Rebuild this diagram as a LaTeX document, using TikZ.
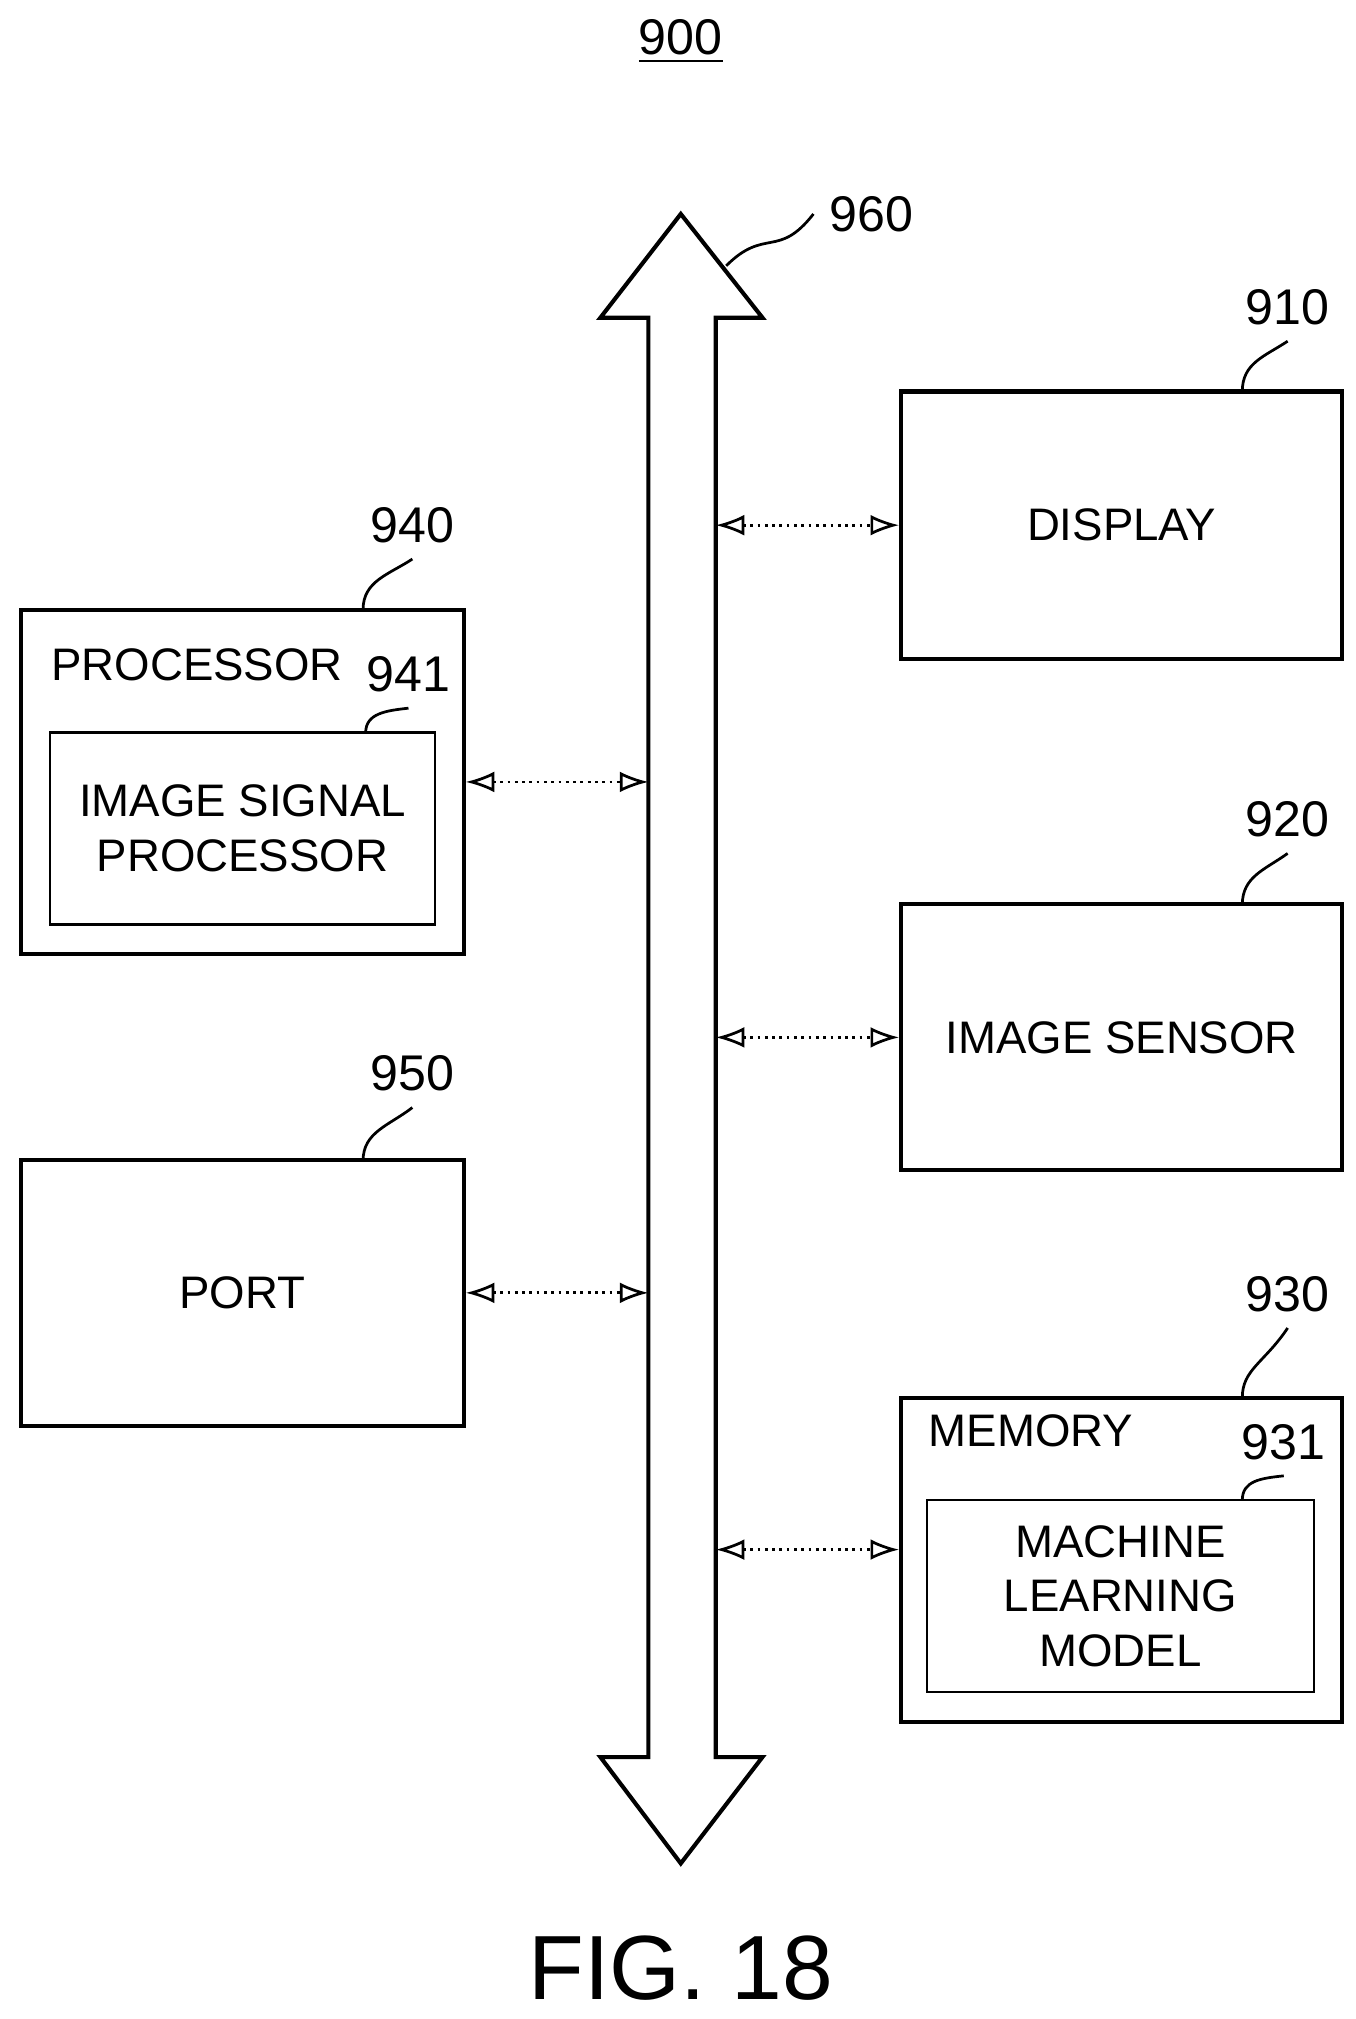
\documentclass[tikz,border=0pt]{standalone}
\usepackage{fontspec}
\setmainfont{Liberation Sans}
\usetikzlibrary{arrows.meta, positioning}
\tikzset{
  box/.style={rectangle, draw, line width=0.9pt, inner sep=0pt},
  inbox/.style={rectangle, draw, line width=0.5pt, inner sep=0pt},
  lbl/.style={font=\fontsize{11}{12}\selectfont},
  txt/.style={font=\fontsize{10}{12}\selectfont, align=center},
  link/.style={{Latex[length=2.2mm,width=1.6mm,open]}-{Latex[length=2.2mm,width=1.6mm,open]}, line width=0.6pt, densely dotted},
  lead/.style={line width=0.6pt}
}
\begin{document}
\begin{tikzpicture}[x=0.01cm, y=-0.01cm]
\useasboundingbox (0,0) rectangle (1045,1557);

% title
\node[lbl] (title) at (525,32) {\underline{900}};

% bus
\draw[line width=0.9pt] (525,165) -- (588,245) -- (552,245) -- (552,1355) -- (588,1355)
  -- (525,1437) -- (463,1355) -- (500,1355) -- (500,245) -- (463,245) -- cycle;
\coordinate (bustop) at (560,205);
\node[lbl] (n960) at (672,165) {960};
\draw[lead] (bustop) .. controls (590,175) and (600,200) .. (n960.west);

% right column
\node[box, minimum width=3.40cm, minimum height=2.06cm] (display) at (865,405) {};
\node[txt] at (display) {DISPLAY};
\node[box, minimum width=3.40cm, minimum height=2.05cm] (sensor) at (865,800) {};
\node[txt] at (sensor) {IMAGE SENSOR};
\node[box, minimum width=3.40cm, minimum height=2.50cm] (memory) at (865,1203) {};
\node[txt] at (795,1103) {MEMORY};
\node[inbox, minimum width=2.98cm, minimum height=1.48cm] (model) at (864,1231) {};
\node[txt] at (model) {MACHINE\\LEARNING\\MODEL};

% left column
\node[box, minimum width=3.41cm, minimum height=2.65cm] (proc) at (187,603) {};
\node[txt] at (152,513) {PROCESSOR};
\node[inbox, minimum width=2.97cm, minimum height=1.48cm] (isp) at (187,639) {};
\node[txt] at (isp) {IMAGE SIGNAL\\PROCESSOR};
\node[box, minimum width=3.41cm, minimum height=2.05cm] (port) at (187,997) {};
\node[txt] at (port) {PORT};

% reference numerals
\node[lbl] (n910) at (993,237) {910};
\node[lbl] (n920) at (993,632) {920};
\node[lbl] (n930) at (993,998) {930};
\node[lbl] (n931) at (990,1112) {931};
\node[lbl] (n940) at (318,405) {940};
\node[lbl] (n941) at (315,520) {941};
\node[lbl] (n950) at (318,828) {950};
\draw[lead] (958,302) .. controls (958,280) and (975,275) .. (n910.south);
\draw[lead] (958,698) .. controls (958,676) and (975,671) .. (n920.south);
\draw[lead] (958,1078) .. controls (958,1056) and (975,1051) .. (n930.south);
\draw[lead] (958,1157) .. controls (958,1142) and (972,1140) .. (n931.south);
\draw[lead] (280,470) .. controls (280,448) and (300,443) .. (n940.south);
\draw[lead] (282,565) .. controls (282,550) and (298,548) .. (n941.south);
\draw[lead] (280,895) .. controls (280,873) and (300,868) .. (n950.south);

% links to the bus
\coordinate (b1) at (552,405);
\coordinate (b2) at (552,800);
\coordinate (b3) at (552,1195);
\coordinate (b4) at (500,603);
\coordinate (b5) at (500,997);
\draw[link] (b1) -- (display.west |- b1);
\draw[link] (b2) -- (sensor.west |- b2);
\draw[link] (b3) -- (memory.west |- b3);
\draw[link] (proc.east |- b4) -- (b4);
\draw[link] (port.east |- b5) -- (b5);

% caption
\node[font=\fontsize{20}{22}\selectfont] (fig) at (525,1518) {FIG. 18};
\end{tikzpicture}
\end{document}
